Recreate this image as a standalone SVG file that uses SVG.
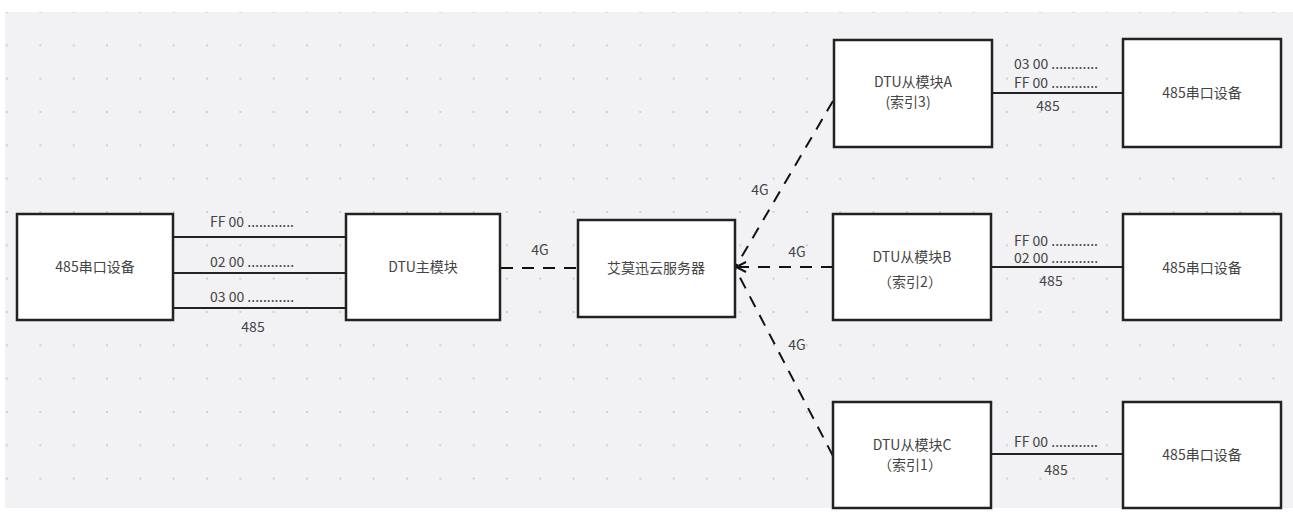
<svg xmlns="http://www.w3.org/2000/svg" width="1293" height="513" viewBox="0 0 1293 513">
<defs>
<pattern id="dots" x="7" y="12" width="33.33" height="33.33" patternUnits="userSpaceOnUse">
<circle cx="0" cy="0" r="1" fill="#c4c4c8"/>
<circle cx="33.33" cy="0" r="1" fill="#c4c4c8"/>
<circle cx="0" cy="33.33" r="1" fill="#c4c4c8"/>
<circle cx="33.33" cy="33.33" r="1" fill="#c4c4c8"/>
</pattern>
<marker id="arr" viewBox="0 0 12 12" refX="11" refY="6" markerWidth="12" markerHeight="12" markerUnits="userSpaceOnUse" orient="auto">
<path d="M1,1 L11,6 L1,11" fill="none" stroke="#111" stroke-width="2"/>
</marker>
<style>
.box{fill:#fff;stroke:#222;stroke-width:2.5}
.t{font-family:"Noto Sans CJK SC","Noto Sans",sans-serif;font-size:14px;fill:#444}
.m{text-anchor:middle}
.solid{stroke:#222;stroke-width:2;fill:none}
.dash{stroke:#111;stroke-width:2;fill:none;stroke-dasharray:12 9}
</style>
</defs>
<rect x="0" y="0" width="1293" height="513" fill="#fff"/>
<rect x="5" y="12" width="1288" height="496" fill="#f2f2f4"/>
<rect x="5" y="12" width="1288" height="496" fill="url(#dots)"/>

<g id="connectors">
<line class="solid" x1="174" y1="237" x2="346" y2="237"/>
<line class="solid" x1="174" y1="273" x2="346" y2="273"/>
<line class="solid" x1="174" y1="308" x2="346" y2="308"/>
<line class="dash" x1="501" y1="268" x2="578" y2="268"/>
<line class="dash" x1="833" y1="101" x2="735" y2="268"/>
<line class="dash" x1="833" y1="267" x2="736" y2="267" marker-end="url(#arr)"/>
<line class="dash" x1="833" y1="456" x2="735" y2="268"/>
<line class="solid" x1="992" y1="93" x2="1123" y2="93"/>
<line class="solid" x1="991" y1="267" x2="1123" y2="267"/>
<line class="solid" x1="991" y1="454" x2="1123" y2="454"/>
<text class="t" x="210" y="227">FF 00 ............</text>
<text class="t" x="210" y="267">02 00 ............</text>
<text class="t" x="210" y="302">03 00 ............</text>
<text class="t m" x="253" y="332">485</text>
<text class="t m" x="540" y="255">4G</text>
<text class="t m" x="760" y="195">4G</text>
<text class="t m" x="797" y="257">4G</text>
<text class="t m" x="797" y="350">4G</text>
<text class="t" x="1014" y="69">03 00 ............</text>
<text class="t" x="1014" y="88">FF 00 ............</text>
<text class="t m" x="1048" y="111">485</text>
<text class="t" x="1014" y="246">FF 00 ............</text>
<text class="t" x="1014" y="263">02 00 ............</text>
<text class="t m" x="1051" y="286">485</text>
<text class="t" x="1014" y="447">FF 00 ............</text>
<text class="t m" x="1056" y="475">485</text>
</g>

<g id="dev-left">
<rect class="box" x="17" y="214" width="156" height="106"/>
<text class="t m" x="95" y="272">485串口设备</text>
</g>
<g id="dtu-master">
<rect class="box" x="346" y="214" width="154" height="106"/>
<text class="t m" x="423" y="272">DTU主模块</text>
</g>
<g id="server">
<rect class="box" x="578" y="220" width="157" height="97"/>
<text class="t m" x="656" y="273">艾莫迅云服务器</text>
</g>
<g id="dtu-a">
<rect class="box" x="834" y="40" width="158" height="107"/>
<text class="t m" x="913" y="87">DTU从模块A</text>
<text class="t m" x="908" y="107">(索引3)</text>
</g>
<g id="dev-a">
<rect class="box" x="1123" y="39" width="158" height="108"/>
<text class="t m" x="1202" y="98">485串口设备</text>
</g>
<g id="dtu-b">
<rect class="box" x="833" y="214" width="158" height="106"/>
<text class="t m" x="912" y="262">DTU从模块B</text>
<text class="t m" x="910" y="287">（索引2）</text>
</g>
<g id="dev-b">
<rect class="box" x="1123" y="214" width="158" height="106"/>
<text class="t m" x="1202" y="273">485串口设备</text>
</g>
<g id="dtu-c">
<rect class="box" x="833" y="402" width="158" height="106"/>
<text class="t m" x="912" y="450">DTU从模块C</text>
<text class="t m" x="910" y="470">（索引1）</text>
</g>
<g id="dev-c">
<rect class="box" x="1123" y="402" width="158" height="106"/>
<text class="t m" x="1202" y="460">485串口设备</text>
</g>
</svg>
